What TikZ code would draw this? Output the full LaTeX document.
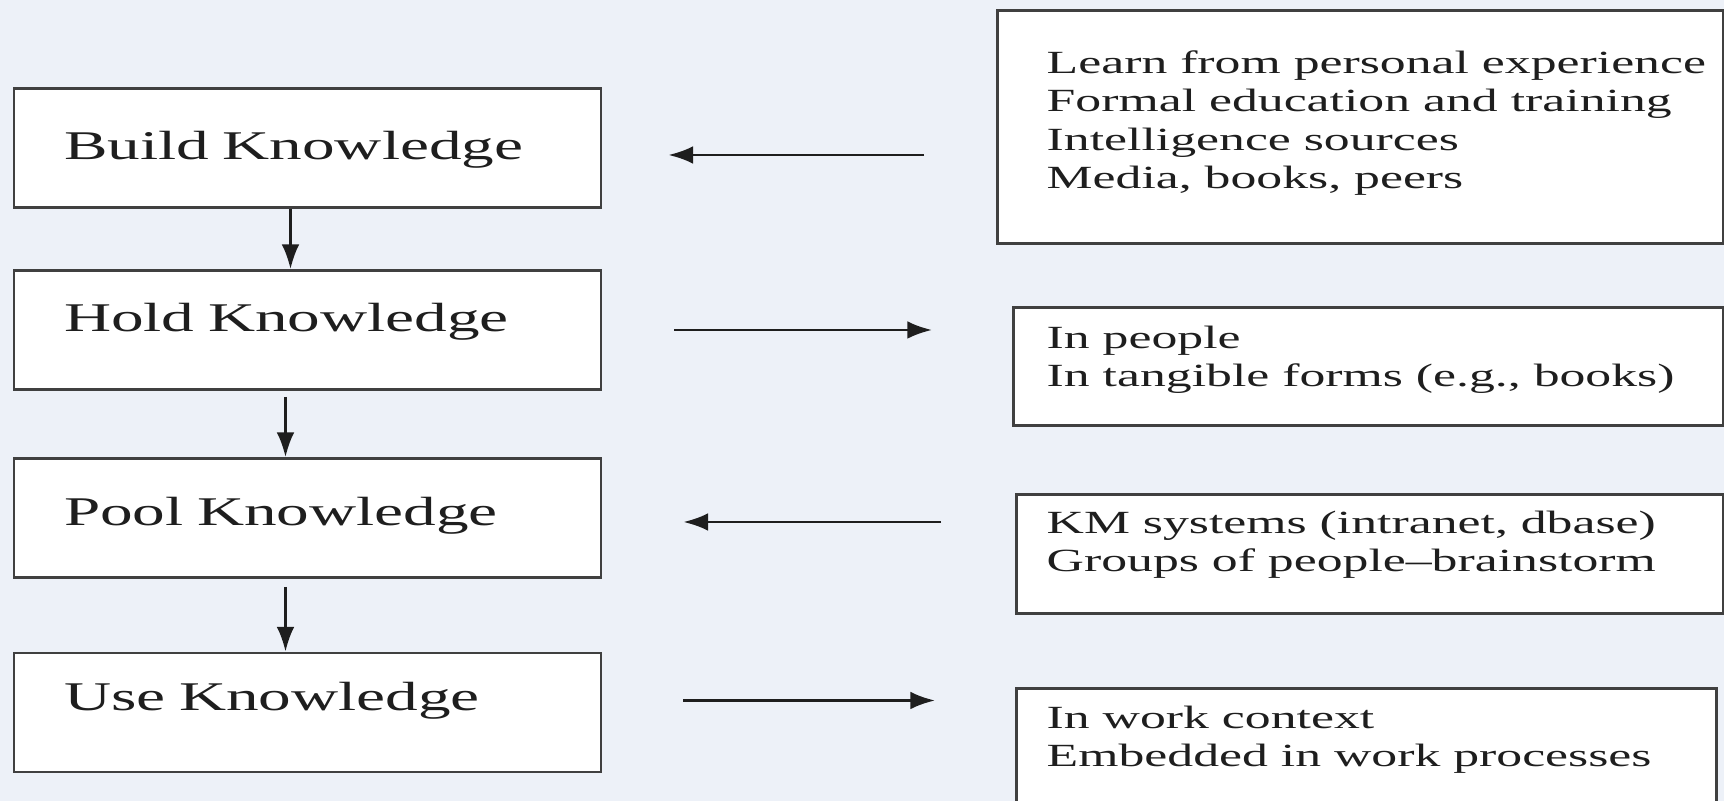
\documentclass[tikz,border=0pt]{standalone}
\usepackage{fontspec}
\setmainfont{Liberation Serif}[FakeStretch=1.6]
\usepackage{tikz}
\usetikzlibrary{arrows.meta,positioning,calc}
\definecolor{kmback}{HTML}{EDF1F8}
\definecolor{kmrule}{HTML}{404040}
\definecolor{kmink} {HTML}{1E1E1E}

\begin{document}
\begin{tikzpicture}[
    stagebox/.style={draw=kmrule, fill=white, line width=0.8pt,
                     minimum width=5.87cm, minimum height=1.19cm,
                     text width=4.87cm, inner xsep=0.5cm, align=left,
                     text height=8.3pt, text=kmink,
                     font=\fontsize{11.6}{14}\selectfont},
    srcbox/.style={draw=kmrule, fill=white, line width=0.8pt,
                   anchor=north west, inner sep=0pt},
    srctext/.style={anchor=north west, align=left, inner sep=0pt, text=kmink,
                    font=\fontsize{9.2}{10.9}\selectfont},
    flow/.style={-{Latex[length=7pt,width=5pt]}, line width=0.75pt, draw=kmink}]
  \clip (0,0) rectangle (17.24,-8.01);
  \fill[kmback] (0,0) rectangle (17.24,-8.01);
  \useasboundingbox (0,0) rectangle (17.24,-8.01);

  % stages on the left
  \foreach \name/\y/\tdep/\txt in {build/-1.48/2.0/Build Knowledge, hold/-3.30/7.7/Hold Knowledge,
                                   pool/-5.18/4.3/Pool Knowledge, use/-7.125/9.7/Use Knowledge}
    {\node[stagebox, text depth=\tdep pt] (\name) at (3.075,\y) {\txt};}

  % sources and forms on the right
  \node[srcbox, minimum width=7.26cm, minimum height=2.33cm] (srcbuild) at (9.96,-0.09) {};
  \node[srcbox, minimum width=7.10cm, minimum height=1.18cm] (srchold) at (10.12,-3.06) {};
  \node[srcbox, minimum width=7.07cm, minimum height=1.19cm] (srcpool) at (10.15,-4.93) {};
  \node[srcbox, minimum width=7.00cm, minimum height=1.30cm] (srcuse) at (10.15,-6.87) {};

  \node[srctext] (txtbuild) at (10.46,-0.50) {Learn from personal experience\\
    Formal education and training\\ Intelligence sources\\ Media, books, peers};
  \node[srctext] (txthold) at (10.46,-3.25) {In people\\ In tangible forms (e.g., books)};
  \node[srctext] (txtpool) at (10.46,-5.10) {KM systems (intranet, dbase)\\
    Groups of people--brainstorm};
  \node[srctext] (txtuse) at (10.46,-7.05) {In work context\\ Embedded in work processes};

  % down the chain
  \draw[flow] ($(build.south)+(-0.17,0)$) -- ($(hold.north)+(-0.17,0)$);
  \draw[flow, shorten <=0.06cm] ($(hold.south)+(-0.22,0)$) -- ($(pool.north)+(-0.22,0)$);
  \draw[flow, shorten <=0.08cm] ($(pool.south)+(-0.22,0)$) -- ($(use.north)+(-0.22,0)$);

  % across
  \draw[flow, shorten <=0.72cm, shorten >=0.66cm]
    ([yshift=-0.07cm]srcbuild.west |- build.east) -- ([yshift=-0.07cm]build.east);
  \draw[flow, shorten <=0.72cm, shorten >=0.80cm] (hold.east) -- (srchold.west |- hold.east);
  \draw[flow, shorten <=0.74cm, shorten >=0.81cm]
    ([yshift=-0.04cm]srcpool.west |- pool.east) -- ([yshift=-0.04cm]pool.east);
  \draw[flow, shorten <=0.81cm, shorten >=0.80cm]
    ([yshift=0.12cm]use.east) -- ([yshift=0.12cm]srcuse.west |- use.east);
\end{tikzpicture}
\end{document}
